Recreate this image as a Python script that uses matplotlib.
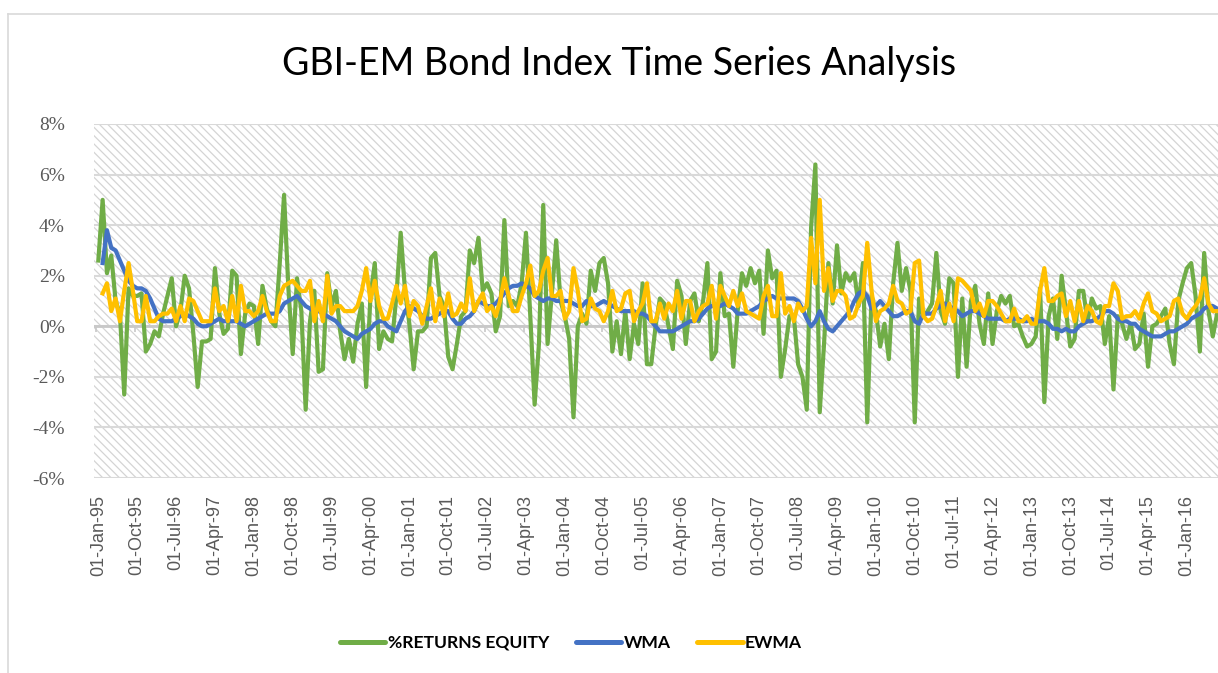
import numpy as np
import pandas as pd
import matplotlib
matplotlib.use("Agg")
import matplotlib.pyplot as plt
from matplotlib.lines import Line2D
from matplotlib.patches import Rectangle

# monthly observations, Jan-1995 onwards (values in %)
dates = pd.date_range("1995-01-01", periods=260, freq="MS")

returns_equity = [
    2.6, 5.0, 2.1, 2.8, 1.0, 0.5, -2.7, 1.5, 1.2, 1.2,
    1.3, -1.0, -0.7, -0.2, -0.4, 0.5, 1.2, 1.9, 0.0, 0.6,
    2.0, 1.5, -0.3, -2.4, -0.6, -0.6, -0.5, 2.3, 0.5, -0.3,
    -0.1, 2.2, 2.0, -1.1, 0.5, 0.9, 0.8, -0.7, 1.6, 0.7,
    0.2, 0.0, 2.5, 5.2, 1.5, -1.1, 1.9, 0.6, -3.3, 0.2,
    1.4, -1.8, -1.7, 2.1, 0.8, 1.4, -0.2, -1.3, -0.5, -1.4,
    0.1, 0.9, -2.4, 1.2, 2.5, -0.9, -0.2, -0.5, -0.6, 1.2,
    3.7, 1.4, 0.1, -1.7, -0.2, -0.2, 0.0, 2.7, 2.9, 1.2,
    0.8, -1.2, -1.7, -0.7, 0.4, 0.6, 3.0, 2.5, 3.5, 1.4,
    1.7, 1.3, -0.2, 0.4, 4.2, 0.8, 1.0, 0.8, 1.7, 3.7,
    0.4, -3.1, -0.7, 4.8, -0.7, 1.3, 3.4, 1.0, 0.4, -0.5,
    -3.6, 0.0, 0.5, 0.1, 2.2, 1.4, 2.5, 2.7, 1.7, -1.0,
    0.2, -1.1, 0.6, -1.3, 0.1, -0.7, 1.7, -1.5, -1.5, 0.0,
    1.1, 0.9, 0.0, -0.9, 1.8, 1.2, -0.7, 1.0, 1.3, 0.2,
    1.0, 2.5, -1.3, -1.0, 2.1, 0.4, 0.5, -1.6, 0.6, 2.1,
    1.6, 2.3, 1.7, 2.2, -0.3, 3.0, 1.9, 2.2, -2.0, -0.9,
    0.4, 0.4, -1.5, -2.0, -3.3, 3.9, 6.4, -3.4, -0.7, 2.5,
    0.9, 3.2, 1.3, 2.1, 1.8, 2.1, 0.8, 2.5, -3.8, 1.2,
    0.6, -0.8, 0.1, -1.3, 1.7, 3.3, 1.4, 2.3, 1.4, -3.8,
    1.1, 0.4, 0.6, 0.9, 2.9, 0.6, 0.1, 1.9, 1.7, -2.0,
    1.1, -1.6, 1.0, 1.6, 0.1, -0.7, 1.3, -0.7, 0.6, 1.2,
    0.9, 1.2, 0.0, 0.1, -0.4, -0.8, -0.7, -0.4, 1.5, -3.0,
    0.4, 1.1, -0.5, 2.0, 0.6, -0.8, -0.5, 1.4, 1.4, 0.2,
    1.1, 0.7, 0.8, -0.7, 0.4, -2.5, 0.4, 0.1, -0.5, 0.1,
    -0.9, -0.7, 0.5, -1.6, 0.0, 0.1, 0.4, 0.7, -0.7, -1.5,
    1.0, 1.7, 2.3, 2.5, 1.2, -1.0, 2.9, 0.6, -0.4, 0.5,
]

wma = [
    np.nan, 2.5, 3.8, 3.1, 3.0, 2.6, 2.2, 1.8, 1.6, 1.5,
    1.5, 1.4, 1.1, 0.7, 0.3, 0.2, 0.2, 0.2, 0.3, 0.4,
    0.5, 0.4, 0.3, 0.1, 0.0, 0.0, 0.1, 0.2, 0.3, 0.2,
    0.2, 0.2, 0.2, 0.1, 0.0, 0.1, 0.2, 0.3, 0.4, 0.5,
    0.5, 0.5, 0.6, 0.9, 1.0, 1.1, 1.2, 1.0, 0.8, 0.7,
    0.6, 0.6, 0.5, 0.4, 0.3, 0.2, 0.0, -0.2, -0.3, -0.4,
    -0.5, -0.3, -0.2, -0.1, 0.1, 0.2, 0.2, 0.0, -0.1, -0.2,
    0.2, 0.6, 0.8, 0.7, 0.6, 0.4, 0.3, 0.3, 0.4, 0.5,
    0.6, 0.6, 0.3, 0.1, 0.1, 0.3, 0.4, 0.6, 1.0, 0.9,
    0.8, 0.8, 0.9, 1.1, 1.3, 1.5, 1.6, 1.6, 1.7, 1.6,
    1.5, 1.2, 1.1, 1.0, 1.1, 1.1, 1.0, 1.0, 1.0, 1.0,
    0.9, 0.8, 0.8, 1.0, 0.8, 0.8, 0.9, 1.0, 0.9, 0.8,
    0.7, 0.6, 0.6, 0.6, 0.6, 0.5, 0.5, 0.4, 0.2, 0.0,
    -0.2, -0.2, -0.2, -0.2, -0.1, 0.0, 0.1, 0.2, 0.2, 0.3,
    0.5, 0.7, 0.8, 0.8, 0.8, 0.9, 0.8, 0.7, 0.5, 0.5,
    0.5, 0.6, 0.7, 0.8, 1.0, 1.1, 1.2, 1.1, 1.1, 1.1,
    1.1, 1.1, 1.0, 0.7, 0.3, 0.0, 0.2, 0.6, 0.2, -0.1,
    -0.2, 0.0, 0.2, 0.4, 0.6, 1.0, 1.3, 1.4, 1.2, 0.7,
    0.8, 1.0, 0.8, 0.6, 0.4, 0.4, 0.5, 0.6, 0.6, 0.2,
    0.1, 0.5, 0.5, 0.5, 0.7, 0.8, 0.9, 0.8, 0.7, 0.6,
    0.4, 0.5, 0.6, 0.6, 0.5, 0.4, 0.3, 0.3, 0.3, 0.3,
    0.2, 0.3, 0.3, 0.3, 0.2, 0.2, 0.3, 0.2, 0.2, 0.2,
    0.1, -0.1, -0.1, -0.2, -0.1, -0.2, -0.2, 0.0, 0.1, 0.2,
    0.2, 0.3, 0.4, 0.6, 0.6, 0.5, 0.3, 0.2, 0.2, 0.1,
    0.1, -0.1, -0.2, -0.3, -0.4, -0.4, -0.4, -0.3, -0.2, -0.2,
    -0.1, 0.0, 0.1, 0.3, 0.4, 0.5, 0.7, 0.8, 0.8, 0.7,
]

ewma = [
    np.nan, 1.3, 1.7, 0.6, 1.1, 0.2, 1.4, 2.5, 1.4, 0.2,
    0.2, 1.2, 0.2, 0.2, 0.4, 0.5, 0.5, 0.7, 0.2, 0.8,
    0.2, 1.1, 1.0, 0.6, 0.2, 0.2, 0.2, 1.5, 0.6, 0.8,
    0.2, 1.2, 0.2, 1.6, 0.6, 0.6, 0.4, 0.6, 1.2, 0.6,
    0.2, 0.2, 1.2, 1.6, 1.7, 1.8, 1.6, 1.4, 1.4, 1.8,
    0.2, 1.0, 0.2, 2.0, 0.5, 0.8, 0.8, 0.6, 0.6, 0.6,
    0.8, 1.4, 2.3, 1.0, 1.8, 0.8, 0.3, 0.3, 0.9, 1.6,
    0.9, 1.6, 0.4, 1.0, 0.8, 0.1, 0.8, 1.5, 0.2, 1.1,
    0.4, 1.3, 0.4, 0.5, 0.9, 0.6, 1.9, 0.6, 1.0, 1.3,
    0.6, 0.8, 0.4, 1.0, 1.9, 1.2, 0.6, 0.6, 1.2, 1.7,
    2.4, 1.2, 1.4, 2.2, 2.7, 1.2, 1.2, 1.4, 0.3, 0.6,
    2.3, 1.4, 0.2, 0.3, 1.1, 0.7, 0.6, 0.2, 0.6, 1.4,
    0.6, 0.7, 1.3, 1.4, 0.2, 0.6, 0.9, 1.7, 0.2, 0.2,
    0.9, 0.3, 0.9, 0.6, 1.4, 0.3, 1.0, 1.0, 0.2, 0.6,
    0.8, 0.9, 1.6, 0.3, 1.6, 1.2, 0.8, 1.4, 0.8, 1.3,
    0.6, 0.5, 0.4, 0.3, 1.2, 1.6, 0.4, 0.4, 2.1, 0.5,
    0.8, 0.2, 0.9, 0.6, 0.8, 3.5, 1.7, 5.0, 1.4, 2.3,
    1.0, 1.4, 1.4, 1.2, 0.3, 0.4, 0.9, 1.2, 3.3, 1.4,
    0.2, 0.6, 0.7, 0.9, 1.6, 1.0, 0.9, 0.5, 0.6, 2.5,
    2.6, 0.4, 0.2, 0.3, 0.8, 1.4, 0.2, 0.9, 0.2, 1.9,
    1.8, 1.6, 1.4, 0.6, 0.9, 0.4, 1.0, 1.0, 0.8, 0.5,
    0.2, 0.2, 0.7, 0.2, 0.2, 0.4, 0.1, 0.1, 1.4, 2.3,
    1.0, 1.0, 1.2, 1.3, 0.4, 1.0, 0.2, 1.0, 0.2, 0.8,
    0.6, 0.2, 0.1, 0.8, 0.8, 1.7, 1.4, 0.3, 0.4, 0.4,
    0.6, 0.3, 0.9, 1.3, 0.6, 0.5, 0.2, 0.3, 0.4, 1.0,
    1.1, 0.5, 0.3, 0.6, 0.8, 1.1, 1.9, 0.9, 0.6, 0.6,
]

series_names = ["%RETURNS EQUITY", "WMA", "EWMA"]
series_colors = ["#70AD47", "#4472C4", "#FFC000"]

tick_step = 9
tick_pos = list(range(0, len(dates), tick_step))
tick_labels = [dates[i].strftime("%d-%b-%y") for i in tick_pos]
y_ticks = list(range(-6, 9, 2))
y_labels = [f"{v}%" for v in y_ticks]

W, H = 1218, 673
fig = plt.figure(figsize=(W / 100, H / 100), dpi=100)
ax = fig.add_axes([94 / W, 1 - 478 / H, 1 - 94 / W, (478 - 124) / H])

x = np.arange(len(dates))
ax.set_xlim(-1.0, 259.2)
ax.set_ylim(-6, 8)

# hatched plot area
plt.rcParams["hatch.linewidth"] = 0.9
ax.add_patch(Rectangle((0, 0), 1, 1, transform=ax.transAxes, facecolor="white",
                       edgecolor="#d4d4d4", hatch="\\\\\\\\", lw=0, zorder=0))

for v in y_ticks:
    ax.axhline(v, color="#d9d9d9", lw=1.5, zorder=1)
ax.axhline(0, color="#c8c8c8", lw=2, zorder=1.5)
ax.vlines([p - 0.5 for p in tick_pos], -0.22, 0, color="#c8c8c8", lw=1.2, zorder=1.5)

data = [returns_equity, wma, ewma]
for vals, name, col in zip(data, series_names, series_colors):
    ax.plot(x, vals, color=col, lw=3, label=name, zorder=3, solid_joinstyle="round")

for s in ax.spines.values():
    s.set_visible(False)

ax.set_yticks(y_ticks)
ax.set_yticklabels(y_labels, fontfamily="Liberation Serif", fontsize=14, color="#595959")
ax.set_xticks(tick_pos)
ax.set_xticklabels(tick_labels, rotation=90, fontfamily="Liberation Sans", fontsize=13,
                   color="#595959")
ax.tick_params(axis="both", length=0)
ax.tick_params(axis="y", pad=21)
ax.tick_params(axis="x", pad=12)

fig.text(619 / W, 1 - 64 / H, "GBI-EM Bond Index Time Series Analysis", ha="center",
         va="center", fontfamily="Lato", fontsize=27, color="black")

leg = fig.legend(loc="center", bbox_to_anchor=(571 / W, 1 - 643 / H), ncol=3, frameon=False,
                 prop={"family": "Lato", "weight": "bold", "size": 12.6},
                 handlelength=2.6, handletextpad=0.15, columnspacing=1.5)
for h in leg.get_lines():
    h.set_linewidth(3.6)
    h.set_solid_capstyle("round")

# outer chart frame (left and top edges visible)
fig.add_artist(Line2D([8 / W, 8 / W], [0, 1 - 14 / H], color="#d9d9d9", lw=1.2))
fig.add_artist(Line2D([8 / W, 1], [1 - 14 / H, 1 - 14 / H], color="#d9d9d9", lw=1.2))

fig.savefig("out.png", dpi=100)
